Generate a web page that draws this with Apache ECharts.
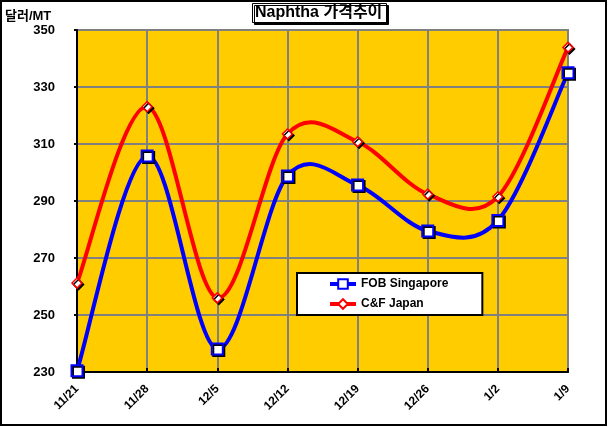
<!DOCTYPE html>
<html>
<head>
<meta charset="utf-8">
<script src="https://cdn.jsdelivr.net/npm/echarts@6/dist/echarts.min.js"></script>
<style>
  html, body { margin: 0; padding: 0; background: #fff; }
  #main { width: 608px; height: 427px; }
</style>
</head>
<body>
<div id="main"></div>
<script>
// 주간 날짜
var weeks = ['11/21', '11/28', '12/5', '12/12', '12/19', '12/26', '1/2', '1/9'];
// FOB Singapore (달러/MT)
var fobSingapore = [230.4, 305.8, 238.1, 298.8, 295.6, 279.5, 283.2, 335.0];
// C&F Japan (달러/MT)
var cfJapan = [261.2, 323.1, 256.0, 313.5, 310.8, 292.4, 291.5, 343.9];
var yTicks = { min: 230, max: 350, step: 20 };

var font = '"Liberation Sans", Arial, "Noto Sans CJK KR", sans-serif';
var myChart = echarts.init(document.getElementById('main'));

// 엑셀식 부드러운 선 (Catmull-Rom -> bezier)
function smoothCurve(values, color) {
    return function (params, api) {
        if (params.dataIndex !== 0) return null;
        var pts = values.map(function (v, i) { return api.coord([i, v]); });
        var d = 'M' + pts[0][0] + ' ' + pts[0][1];
        for (var i = 0; i < pts.length - 1; i++) {
            var p0 = pts[i - 1] || pts[i];
            var p1 = pts[i];
            var p2 = pts[i + 1];
            var p3 = pts[i + 2] || pts[i + 1];
            var c1x = p1[0] + (p2[0] - p0[0]) / 6, c1y = p1[1] + (p2[1] - p0[1]) / 6;
            var c2x = p2[0] - (p3[0] - p1[0]) / 6, c2y = p2[1] - (p3[1] - p1[1]) / 6;
            d += ' C' + c1x + ' ' + c1y + ' ' + c2x + ' ' + c2y + ' ' + p2[0] + ' ' + p2[1];
        }
        return {
            type: 'path',
            shape: { pathData: d },
            style: { fill: 'none', stroke: color, lineWidth: 4, lineJoin: 'round' }
        };
    };
}

var option = {
    backgroundColor: '#fff',
    animation: false,
    title: {
        text: 'Naphtha 가격추이',
        left: 252,
        top: 3,
        padding: [2, 4, 2, 3],
        backgroundColor: '#fff',
        borderColor: '#000',
        borderWidth: 1,
        shadowColor: '#000',
        shadowOffsetX: 2,
        shadowOffsetY: 2,
        shadowBlur: 0,
        textStyle: { fontFamily: font, fontSize: 16, fontWeight: 'bold', color: '#000' }
    },
    graphic: [
        {   // 바깥 테두리
            type: 'rect',
            shape: { x: 1, y: 1, width: 605, height: 424 },
            style: { fill: 'none', stroke: '#000', lineWidth: 2 },
            silent: true
        },
        {
            type: 'text',
            left: 5,
            top: 10,
            style: { text: '달러/MT', fontFamily: font, fontSize: 13, fontWeight: 'bold', fill: '#000' }
        }
    ],
    legend: {
        orient: 'vertical',
        left: 297,
        top: 273,
        padding: [5, 34, 5, 31],
        itemGap: 8,
        itemWidth: 26,
        itemHeight: 12,
        backgroundColor: '#fff',
        borderColor: '#000',
        borderWidth: 2,
        textStyle: { fontFamily: font, fontSize: 12, fontWeight: 'bold', color: '#000' },
        data: [
            { name: 'FOB Singapore', lineStyle: { color: '#0000FF', width: 4, opacity: 1 } },
            { name: 'C&F Japan', lineStyle: { color: '#FF0000', width: 4, opacity: 1 } }
        ]
    },
    grid: {
        left: 77,
        right: 40,
        top: 30,
        bottom: 55,
        show: true,
        backgroundColor: '#FFCC00',
        borderColor: '#808080',
        borderWidth: 2
    },
    xAxis: {
        type: 'category',
        boundaryGap: false,
        data: weeks,
        axisLine: { lineStyle: { color: '#000', width: 2 } },
        axisTick: { inside: true, length: 4, lineStyle: { color: '#000', width: 2 } },
        axisLabel: {
            rotate: 45,
            margin: 15,
            color: '#000',
            fontFamily: font,
            fontSize: 12,
            fontWeight: 'bold'
        },
        splitLine: { show: true, lineStyle: { color: '#808080', width: 2 } }
    },
    yAxis: {
        type: 'value',
        min: yTicks.min,
        max: yTicks.max,
        interval: yTicks.step,
        axisLine: { show: true, lineStyle: { color: '#000', width: 2 } },
        axisTick: { show: true, length: 3, lineStyle: { color: '#000', width: 2 } },
        axisLabel: {
            margin: 22,
            color: '#000',
            fontFamily: font,
            fontSize: 13,
            fontWeight: 'bold'
        },
        splitLine: { show: true, lineStyle: { color: '#808080', width: 2 } }
    },
    series: [
        {
            name: 'FOB curve',
            type: 'custom',
            data: fobSingapore.map(function (v, i) { return [i, v]; }),
            renderItem: smoothCurve(fobSingapore, '#0000FF'),
            silent: true,
            z: 2
        },
        {
            name: 'C&F curve',
            type: 'custom',
            data: cfJapan.map(function (v, i) { return [i, v]; }),
            renderItem: smoothCurve(cfJapan, '#FF0000'),
            silent: true,
            z: 2
        },
        {
            name: 'FOB Singapore',
            type: 'line',
            data: fobSingapore,
            symbol: 'rect',
            symbolSize: 11,
            lineStyle: { color: '#0000FF', width: 4, opacity: 0 },
            itemStyle: {
                color: '#fff',
                borderColor: '#0000FF',
                borderWidth: 2,
                shadowColor: '#000',
                shadowOffsetX: 1.5,
                shadowOffsetY: 1.5,
                shadowBlur: 0
            },
            z: 3
        },
        {
            name: 'C&F Japan',
            type: 'line',
            data: cfJapan,
            symbol: 'diamond',
            symbolSize: 10,
            lineStyle: { color: '#FF0000', width: 4, opacity: 0 },
            itemStyle: {
                color: '#fff',
                borderColor: '#FF0000',
                borderWidth: 1.5,
                shadowColor: '#000',
                shadowOffsetX: 1.5,
                shadowOffsetY: 1.5,
                shadowBlur: 0
            },
            z: 4
        }
    ]
};

myChart.setOption(option);
</script>
</body>
</html>
